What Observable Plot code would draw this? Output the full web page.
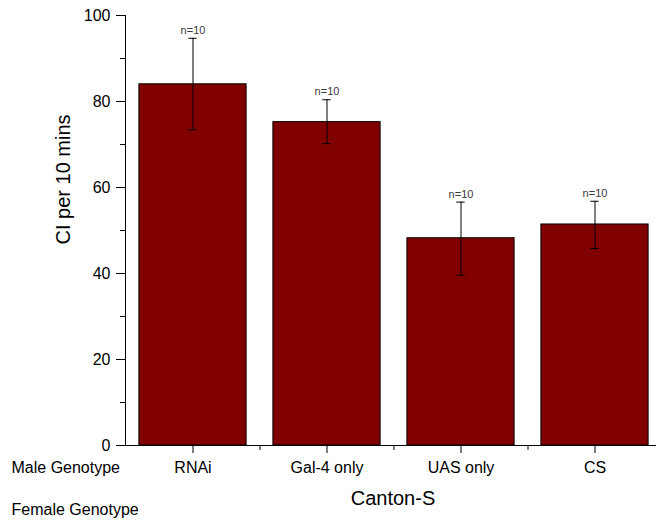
<!DOCTYPE html>
<html>
<head>
<meta charset="utf-8">
<script src="https://cdn.jsdelivr.net/npm/d3@7"></script>
<script src="https://cdn.jsdelivr.net/npm/@observablehq/plot@0.6"></script>
<style>
  html, body { margin: 0; padding: 0; background: #fff; overflow: hidden; }
  #chart svg { overflow: hidden; display: block; }
</style>
</head>
<body>
<div id="chart"></div>
<script>
// ---- data ----
const categories = ["RNAi", "Gal-4 only", "UAS only", "CS"];
const means      = [84.0, 75.2, 48.2, 51.4];
const errLow     = [73.4, 70.2, 39.6, 45.8];
const errHigh    = [94.7, 80.4, 56.6, 56.8];
const nValues    = [10, 10, 10, 10];
const yMajorTicks = [0, 20, 40, 60, 80, 100];
const yMinorTicks = [10, 30, 50, 70, 90];
const yLabel = "CI per 10 mins";
const xLabel = "Canton-S";
const rowLabels = ["Male Genotype", "Female Genotype"];

const data = categories.map((c, i) => ({
  cat: c, mean: means[i], lo: errLow[i], hi: errHigh[i], n: nValues[i]
}));

const font = "'Liberation Sans', Arial, sans-serif";

const chart = Plot.plot({
  width: 656,
  height: 525,
  marginLeft: 125,
  marginRight: 0,
  marginTop: 15,
  marginBottom: 80,
  style: { fontFamily: font, color: "#000", background: "#fff" },
  x: {
    type: "band",
    domain: categories,
    range: [125.5, 661.5],
    paddingInner: 0.2,
    paddingOuter: 0.1,
    round: false
  },
  y: { domain: [0, 100] },
  marks: [
    Plot.barY(data, { x: "cat", y: "mean", fill: "#800000", stroke: "#000", strokeWidth: 1 }),
    // error bars
    Plot.ruleX(data, { x: "cat", y1: "lo", y2: "hi", stroke: "#000", strokeWidth: 1 }),
    Plot.tickY(data, { x: "cat", y: "hi", stroke: "#000", insetLeft: 49.4, insetRight: 49.4 }),
    Plot.tickY(data, { x: "cat", y: "lo", stroke: "#000", insetLeft: 49.4, insetRight: 49.4 }),
    Plot.text(data, { x: "cat", y: "hi", text: d => "n=" + d.n, dy: -8, fontSize: 11, fill: "#3a3a3a" }),
    // axes
    Plot.frame({ anchor: "left", stroke: "#000" }),
    Plot.ruleY([0], { stroke: "#000" }),
    Plot.axisY({ ticks: yMajorTicks, tickSize: 9, tickPadding: 6, fontSize: 16, label: null, stroke: "#000", fill: "#000" }),
    Plot.axisY({ ticks: yMinorTicks, tickSize: 5, tickFormat: () => "", label: null, stroke: "#000" }),
    Plot.axisX({ tickSize: 8, tickPadding: 8, fontSize: 16, label: null, stroke: "#000", fill: "#000" }),
    // minor x ticks at category boundaries
    Plot.ruleX(categories.slice(0, -1), { x: d => d, dx: 67, y1: 0, y2: 0, insetBottom: -5, stroke: "#000" }),
    // y-axis title
    Plot.text([yLabel], { frameAnchor: "left", lineAnchor: "middle", rotate: -90, dx: -61.5, dy: 14, fontSize: 20, fill: "#000" }),
    // x-axis title
    Plot.text([xLabel], { frameAnchor: "bottom", lineAnchor: "middle", dx: 2, dy: 52.6, fontSize: 20, fill: "#000" }),
    // row labels
    Plot.text([rowLabels[0]], { frameAnchor: "bottom-left", lineAnchor: "middle", dx: -114, dy: 22.6, textAnchor: "start", fontSize: 16, fill: "#000" }),
    Plot.text([rowLabels[1]], { frameAnchor: "bottom-left", lineAnchor: "middle", dx: -114, dy: 63.9, textAnchor: "start", fontSize: 16, fill: "#000" })
  ]
});

document.getElementById("chart").appendChild(chart);
</script>
</body>
</html>
